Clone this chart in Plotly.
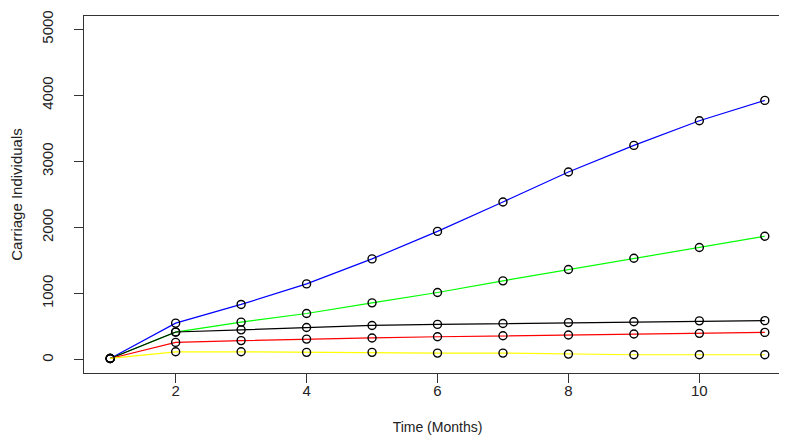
import plotly.graph_objects as go

# meses
meses = [1, 2, 3, 4, 5, 6, 7, 8, 9, 10, 11]

# individuos portadores por escenario
azul = [20, 554, 837, 1148, 1526, 1942, 2387, 2840, 3243, 3616, 3923]
verde = [20, 418, 570, 700, 861, 1018, 1194, 1365, 1536, 1698, 1869]
negro = [20, 420, 453, 489, 519, 535, 548, 562, 576, 589, 592]
rojo = [20, 263, 290, 313, 330, 348, 363, 375, 390, 400, 414]
amarillo = [20, 121, 121, 112, 112, 101, 101, 86, 76, 76, 76]

series = [
    ("blue", azul),
    ("#00ff00", verde),
    ("black", negro),
    ("red", rojo),
    ("#ffff00", amarillo),
]

fig = go.Figure()
for color, valores in series:
    fig.add_trace(go.Scatter(
        x=meses, y=valores, mode="lines+markers",
        line=dict(color=color, width=1.2),
        marker=dict(symbol="circle-open", size=8, color="black", line=dict(width=1.4, color="black")),
        showlegend=False,
    ))

fuente = dict(family="Liberation Sans, Arial", size=14, color="#222")

ejes = dict(
    showgrid=False, zeroline=False, automargin=False,
    showline=True, mirror=True, linecolor="#333", linewidth=1.2,
    ticks="outside", ticklen=9, tickcolor="#333", tickwidth=1.2,
    tickfont=dict(fuente, size=15),
)

fig.update_layout(
    width=787, height=442,
    paper_bgcolor="white", plot_bgcolor="white",
    margin=dict(l=76, r=4, t=8, b=77),
    xaxis=dict(
        ejes, range=[0.6, 11.4], tickvals=[2, 4, 6, 8, 10],
        ticklabelstandoff=-5,
        title=dict(text="Time (Months)", standoff=24, font=fuente),
    ),
    yaxis=dict(
        ejes, range=[-200, 5200], tickvals=[0, 1000, 2000, 3000, 4000, 5000],
        tickangle=-90, ticklabelstandoff=15,
        title=dict(text="Carriage Individuals", standoff=21, font=dict(fuente, size=15)),
    ),
)

fig.write_html("out.html")
